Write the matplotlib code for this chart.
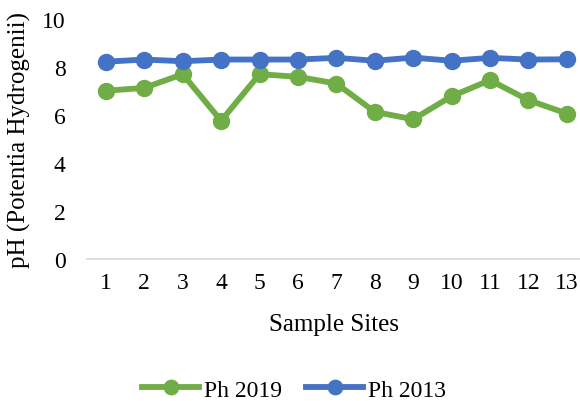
import matplotlib
matplotlib.use("Agg")
import matplotlib.pyplot as plt

sites = list(range(1, 14))
ph_2019 = [6.99, 7.11, 7.68, 5.74, 7.68, 7.57, 7.29, 6.11, 5.80, 6.76, 7.43, 6.60, 6.04]
ph_2013 = [8.20, 8.29, 8.22, 8.29, 8.29, 8.29, 8.36, 8.24, 8.37, 8.24, 8.36, 8.29, 8.30]

plt.rcParams['font.family'] = ['Liberation Serif', 'DejaVu Serif']

fig = plt.figure(figsize=(5.8, 4.02), dpi=100)
ax = fig.add_axes([86.7/580, 1 - 259.5/402, (586 - 86.7)/580, (259.5 - 19.5)/402])

ax.plot(sites, ph_2019, color='#70AD47', lw=4.2, marker='o', ms=11.5, label='Ph 2019')
ax.plot(sites, ph_2013, color='#4472C4', lw=4.2, marker='o', ms=11.5, label='Ph 2013')

ax.set_xlim(0.5, 13.5)
ax.set_ylim(0, 10)
ax.set_yticks([0, 2, 4, 6, 8, 10])
ax.set_xticks(sites)
ax.tick_params(axis='both', length=0, labelsize=17, colors='black')
ax.tick_params(axis='x', pad=10)
ax.tick_params(axis='y', pad=15)
for s in ['top', 'right', 'left']:
    ax.spines[s].set_visible(False)
ax.spines['bottom'].set_color('#D9D9D9')
ax.spines['bottom'].set_linewidth(1.2)

ax.set_ylabel('pH (Potentia Hydrogenii)', fontsize=18, labelpad=8)
fig.text(334/580, 1 - 325/402, 'Sample Sites', ha='center', va='center', fontsize=18)

fig.legend(loc='center', bbox_to_anchor=(294/580, 1 - 391/402), ncol=2, frameon=False,
           fontsize=17, handlelength=2.4, columnspacing=1.05, handletextpad=0.2,
           markerscale=0.9)

fig.savefig('out.png', dpi=100)
